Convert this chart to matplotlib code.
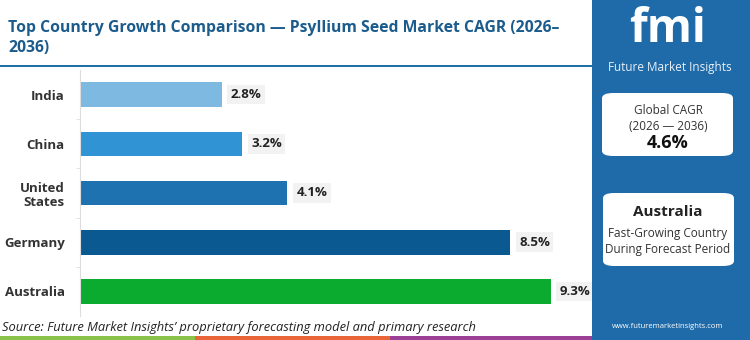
import matplotlib.pyplot as plt
from matplotlib.patches import FancyBboxPatch, Rectangle

countries = ["India", "China", "United\nStates", "Germany", "Australia"]
cagr = [2.8, 3.2, 4.1, 8.5, 9.3]
bar_colors = ["#7db9e0", "#2f93d4", "#1f72b0", "#0a5a91", "#0bab2f"]
value_labels = ["2.8%", "3.2%", "4.1%", "8.5%", "9.3%"]

title = "Top Country Growth Comparison \u2014 Psyllium Seed Market CAGR (2026\u2013\n2036)"
source = "Source: Future Market Insights\u2019 proprietary forecasting model and primary research"
global_cagr = "4.6%"
fastest = "Australia"

plt.rcParams['font.family'] = ['Open Sans', 'DejaVu Sans']

W, H = 750, 340
fig = plt.figure(figsize=(7.5, 3.4), dpi=100)
fig.patch.set_facecolor("white")


def fx(px):
    return px / W


def fy(py):
    return 1 - py / H


# title and rule
fig.text(fx(8), fy(38), title, fontsize=11.3, fontweight="bold", color="#1b5c8c",
         va="center", ha="left", linespacing=1.3)
fig.add_artist(Rectangle((0, fy(67)), fx(592), 2.5 / H, transform=fig.transFigure,
                         color="#1f6fad", lw=0))

# bar chart
ax = fig.add_axes([fx(80), fy(316), fx(510), (316 - 70) / H])
ypos = list(range(len(countries)))
ax.barh(ypos, cagr, height=0.5, color=bar_colors)
for y, v, lab in zip(ypos, cagr, value_labels):
    ax.text(v + 0.18, y, lab, va="center", ha="left", fontsize=9.5, fontweight="bold",
            color="#222222",
            bbox=dict(boxstyle="square,pad=0.25", fc="#f2f2f2", ec="none"))
ax.set_ylim(len(countries) - 0.5, -0.5)
ax.set_xlim(0, 10.08)
ax.set_yticks(ypos)
ax.set_yticklabels(countries, fontsize=9.5, fontweight="bold", color="#333333")
ax.set_yticks([i + 0.5 for i in range(len(countries) - 1)], minor=True)
ax.tick_params(axis="y", which="major", length=0, pad=11)
ax.tick_params(axis="y", which="minor", length=3, color="#dddddd")
ax.set_xticks([])
for s in ["top", "right", "bottom"]:
    ax.spines[s].set_visible(False)
ax.spines["left"].set_color("#dddddd")

# source and bottom stripe
fig.text(fx(2), fy(328), source, fontsize=9.3, style="italic", color="#222222",
         va="center", ha="left")
for x0, x1, c in [(0, 195, "#8bc34a"), (195, 390, "#e8663a"), (390, 592, "#9c3f96")]:
    fig.add_artist(Rectangle((fx(x0), 0), fx(x1 - x0), 4 / H, transform=fig.transFigure,
                             color=c, lw=0))

# right panel
panel_blue = "#1f6aa8"
fig.add_artist(Rectangle((fx(592), 0), fx(W - 592), 1, transform=fig.transFigure,
                         color=panel_blue, lw=0))
fig.text(fx(668), fy(30), "fmi", fontsize=33, fontweight="bold", color="white",
         ha="center", va="center")
# striped look on the logo
for py in range(12, 54, 4):
    fig.add_artist(Rectangle((fx(605), fy(py + 1.5)), fx(125), 1.5 / H,
                             transform=fig.transFigure, color=panel_blue, lw=0))
fig.text(fx(670), fy(67), "Future Market Insights", fontsize=8.5, color="#e8f0f8",
         ha="center", va="center")

for (x0, y0, x1, y1) in [(602, 93, 733, 156), (603, 193, 734, 266)]:
    fig.add_artist(FancyBboxPatch((fx(x0), fy(y1)), fx(x1 - x0), (y1 - y0) / H,
                                  boxstyle="round,pad=0,rounding_size=0.015",
                                  transform=fig.transFigure, fc="white", ec="none"))

fig.text(fx(668), fy(111), "Global CAGR", fontsize=8.5, color="#333333", ha="center", va="center")
fig.text(fx(668), fy(127), "(2026 \u2014 2036)", fontsize=8.5, color="#333333", ha="center", va="center")
fig.text(fx(668), fy(143), global_cagr, fontsize=13, fontweight="bold", color="#111111",
         ha="center", va="center")
fig.text(fx(668), fy(212), fastest, fontsize=11, fontweight="bold", color="#222222",
         ha="center", va="center")
fig.text(fx(668), fy(233), "Fast-Growing Country", fontsize=8.5, color="#333333",
         ha="center", va="center")
fig.text(fx(668), fy(249), "During Forecast Period", fontsize=8.5, color="#333333",
         ha="center", va="center")
fig.text(fx(668), fy(327), "www.futuremarketinsights.com", fontsize=5.5, color="white",
         ha="center", va="center")

fig.savefig("out.png", dpi=100, facecolor="white")
